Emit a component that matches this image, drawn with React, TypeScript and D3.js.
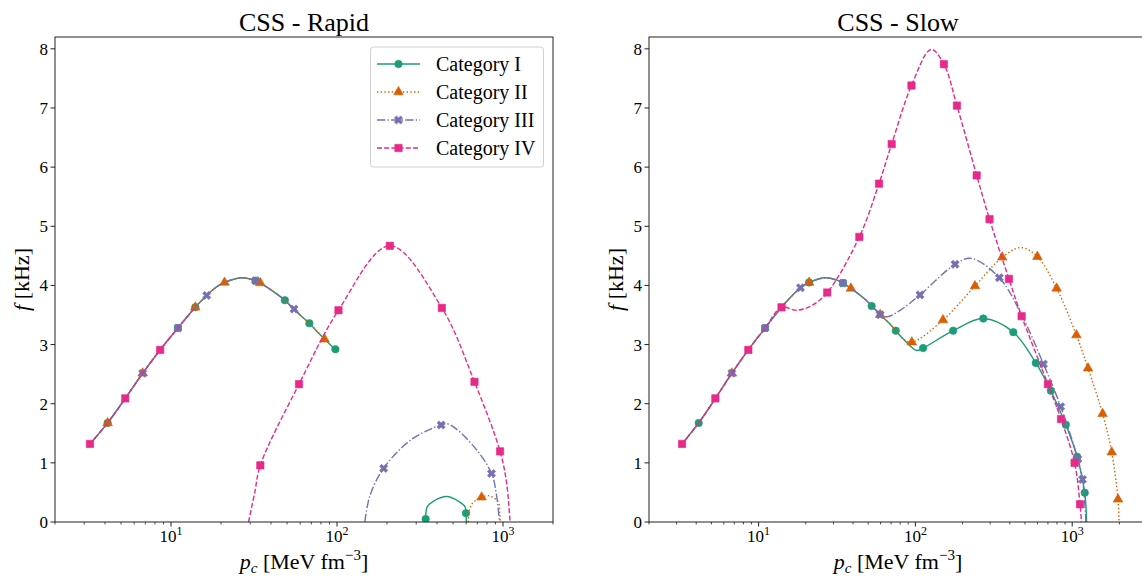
import React from 'react';
import * as d3 from 'd3';

type P = [number, number];

const categories = ['Category I', 'Category II', 'Category III', 'Category IV'];
const panelTitles = ['CSS - Rapid', 'CSS - Slow'];
const yTicks = [0, 1, 2, 3, 4, 5, 6, 7, 8];
const xMajorTicks = [10, 100, 1000];
const xMajorExponents = ['1', '2', '3'];

// shared hadronic branch (p_c [MeV fm^-3], f [kHz])
const hadronic: P[] = [
  [3.25, 1.32], [4.15, 1.675], [5.3, 2.09], [6.75, 2.515], [8.6, 2.91], [11.0, 3.28],
  [14.0, 3.63], [16.4, 3.83], [18.5, 3.96], [21.0, 4.05], [26.8, 4.13], [32.3, 4.08],
  [34.5, 4.04], [38.8, 3.95], [48.5, 3.75], [52.6, 3.65], [55.1, 3.6], [59.6, 3.505],
  [68.1, 3.36], [75.0, 3.235], [84.1, 3.09], [97.7, 2.92],
];

// hadronic cut-offs (transition pressures)
const rapidCuts = [97.7, 84.1, 59.6, 14.0];
const slowCuts = [84.1, 84.1, 59.6, 14.0];

// Rapid: disconnected hybrid branches
const rapidBranchI: P[] = [[342, 0.05], [350, 0.26], [380, 0.35], [458, 0.43], [540, 0.35], [590, 0.26], [598, 0.15], [601, 0]];
const rapidBranchII: P[] = [[618, 0], [628, 0.2], [660, 0.33], [743, 0.418], [815, 0.445], [935, 0.343], [955, 0.15], [962, 0]];
const rapidBranchIII: P[] = [[147, 0], [158, 0.45], [191, 0.907], [279, 1.39], [424, 1.64], [470, 1.655], [656, 1.3], [853, 0.82], [916, 0.43], [951, 0]];
const rapidBranchIV: P[] = [[29.3, 0], [31.9, 0.49], [34.5, 0.958], [59, 2.33], [102, 3.58], [208, 4.67], [428, 3.62], [673, 2.37], [960, 1.194], [1052, 0.65], [1102, 0]];

// Slow: connected branches after the transition
const slowBranchI: P[] = [[102, 2.9], [112, 2.94], [174, 3.235], [271, 3.44], [421, 3.21], [586, 2.69], [731, 2.22], [911, 1.645], [1074, 1.105], [1202, 0.496], [1236, 0]];
const slowBranchII: P[] = [[94.9, 3.04], [150, 3.415], [240, 3.99], [358, 4.475], [473, 4.64], [600, 4.486], [796, 3.95], [1064, 3.16], [1262, 2.6], [1563, 1.83], [1787, 1.18], [1960, 0.383], [1990, 0]];
const slowBranchIII: P[] = [[66, 3.47], [78, 3.56], [107, 3.84], [179, 4.357], [227, 4.458], [343, 4.13], [476, 3.5], [656, 2.67], [845, 1.95], [1087, 1.065], [1164, 0.72], [1224, 0]];
const slowBranchIV: P[] = [[17.4, 3.58], [21.5, 3.65], [27.4, 3.88], [43.9, 4.82], [58.6, 5.72], [70.6, 6.39], [94.4, 7.38], [126, 7.99], [152, 7.74], [184, 7.04], [246, 5.86], [297, 5.12], [395, 4.11], [476, 3.48], [700, 2.33], [849, 1.74], [1036, 1.0], [1122, 0.3], [1145, 0]];

// marker positions
const rapidMarksI: P[] = [[4.15, 1.675], [11.0, 3.28], [14.0, 3.63], [32.3, 4.08], [48.5, 3.75], [68.1, 3.36], [97.7, 2.92], [342, 0.05], [598, 0.15]];
const rapidMarksII: P[] = [[4.15, 1.675], [6.75, 2.515], [14.0, 3.63], [21.0, 4.05], [34.5, 4.04], [84.1, 3.09], [743, 0.418]];
const rapidMarksIII: P[] = [[6.75, 2.515], [11.0, 3.28], [16.4, 3.83], [32.3, 4.08], [55.1, 3.6], [191, 0.907], [424, 1.64], [853, 0.82]];
const rapidMarksIV: P[] = [[3.25, 1.32], [5.3, 2.09], [8.6, 2.91], [34.5, 0.958], [59, 2.33], [102, 3.58], [208, 4.67], [428, 3.62], [673, 2.37], [960, 1.194]];

const slowMarksI: P[] = [[4.15, 1.675], [11.0, 3.28], [21.0, 4.05], [34.5, 4.04], [52.6, 3.65], [75.0, 3.235], [112, 2.94], [174, 3.235], [271, 3.44], [421, 3.21], [586, 2.69], [731, 2.22], [911, 1.645], [1074, 1.105], [1202, 0.496]];
const slowMarksII: P[] = [[6.75, 2.515], [21.0, 4.05], [38.8, 3.95], [59.6, 3.505], [94.9, 3.04], [150, 3.415], [240, 3.99], [358, 4.475], [600, 4.486], [796, 3.95], [1064, 3.16], [1262, 2.6], [1563, 1.83], [1787, 1.18], [1960, 0.383]];
const slowMarksIII: P[] = [[6.75, 2.515], [11.0, 3.28], [18.5, 3.96], [34.5, 4.04], [59.6, 3.505], [107, 3.84], [179, 4.357], [343, 4.13], [656, 2.67], [845, 1.95], [1087, 1.065], [1164, 0.72]];
const slowMarksIV: P[] = [[3.25, 1.32], [5.3, 2.09], [8.6, 2.91], [14.0, 3.63], [27.4, 3.88], [43.9, 4.82], [58.6, 5.72], [70.6, 6.39], [94.4, 7.38], [152, 7.74], [184, 7.04], [246, 5.86], [297, 5.12], [395, 4.11], [476, 3.48], [700, 2.33], [849, 1.74], [1036, 1.0], [1122, 0.3]];

// styles
const colors = ['#1b9e77', '#d95f02', '#7570b3', '#e7298a'];
const dashes = ['none', '1.4 2.3', '8.3 2.2 1.4 2.2', '5 2.2'];
const symbols = [d3.symbolCircle, d3.symbolTriangle, d3.symbolCross, d3.symbolSquare];
const symbolSizes = [44, 40, 42, 54];
const symbolRot = [0, 0, 45, 0];

const FONT = '"Liberation Serif", "Times New Roman", "DejaVu Serif", serif';
const W = 1142, H = 580;
const TOP = 37, BOTTOM = 522;

const upTo = (cut: number) => hadronic.filter((d) => d[0] <= cut + 1e-9);

const rapidSegments: P[][][] = [
  [upTo(rapidCuts[0]), rapidBranchI],
  [upTo(rapidCuts[1]), rapidBranchII],
  [upTo(rapidCuts[2]), rapidBranchIII],
  [upTo(rapidCuts[3]), rapidBranchIV],
];
const slowSegments: P[][][] = [
  [upTo(slowCuts[0]).concat(slowBranchI)],
  [upTo(slowCuts[1]).concat(slowBranchII)],
  [upTo(slowCuts[2]).concat(slowBranchIII)],
  [upTo(slowCuts[3]).concat(slowBranchIV)],
];
const rapidMarks = [rapidMarksI, rapidMarksII, rapidMarksIII, rapidMarksIV];
const slowMarks = [slowMarksI, slowMarksII, slowMarksIII, slowMarksIV];

const yScale = d3.scaleLinear().domain([0, 8.2]).range([BOTTOM, TOP]);

function Marker({ i, x, y }: { i: number; x: number; y: number }) {
  const d = d3.symbol().type(symbols[i]).size(symbolSizes[i])() as string;
  return <path d={d} transform={`translate(${x},${y}) rotate(${symbolRot[i]})`} fill={colors[i]} stroke={colors[i]} strokeWidth={0.6} />;
}

function Panel({ idx, x0, x1, xmax, segments, marks, legend }: {
  idx: number; x0: number; x1: number; xmax: number; segments: P[][][]; marks: P[][]; legend: boolean;
}) {
  const x = d3.scaleLog().domain([2, xmax]).range([x0, x1]);
  const line = d3.line<P>().x((d) => x(d[0])).y((d) => yScale(d[1])).curve(d3.curveCatmullRom.alpha(0.5));
  const minors: number[] = [];
  for (let k = 0; k <= 3; k++) for (let m = 2; m <= 9; m++) {
    const v = m * Math.pow(10, k);
    if (v >= 2 && v <= xmax) minors.push(v);
  }
  const cx = (x0 + x1) / 2;
  const clipId = `clip${idx}`;
  return (
    <g>
      <defs>
        <clipPath id={clipId}><rect x={x0} y={TOP} width={x1 - x0} height={BOTTOM - TOP} /></clipPath>
      </defs>
      <text x={cx} y={31} textAnchor="middle" fontSize={26} fontFamily={FONT}>{panelTitles[idx]}</text>
      <g clipPath={`url(#${clipId})`}>
        {categories.map((c, i) => (
          <g key={c}>
            {segments[i].map((seg, j) => (
              <path key={j} d={line(seg) as string} fill="none" stroke={colors[i]} strokeWidth={1.4}
                strokeDasharray={dashes[i]} />
            ))}
            {marks[i].map((m, j) => <Marker key={j} i={i} x={x(m[0])} y={yScale(m[1])} />)}
          </g>
        ))}
      </g>
      <rect x={x0} y={TOP} width={x1 - x0} height={BOTTOM - TOP} fill="none" stroke="#222" strokeWidth={1} />
      {yTicks.map((t) => (
        <g key={t}>
          <line x1={x0 - 4.5} x2={x0} y1={yScale(t)} y2={yScale(t)} stroke="#222" strokeWidth={1} />
          <text x={x0 - 7} y={yScale(t) + 6} textAnchor="end" fontSize={17} fontFamily={FONT}>{t}</text>
        </g>
      ))}
      {minors.map((v) => (
        <line key={v} x1={x(v)} x2={x(v)} y1={BOTTOM} y2={BOTTOM + 2.5} stroke="#222" strokeWidth={0.8} />
      ))}
      {xMajorTicks.map((v, k) => (
        <g key={v}>
          <line x1={x(v)} x2={x(v)} y1={BOTTOM} y2={BOTTOM + 4.5} stroke="#222" strokeWidth={1} />
          <text x={x(v)} y={542} textAnchor="middle" fontSize={17} fontFamily={FONT}>
            10<tspan dy={-7} fontSize={12}>{xMajorExponents[k]}</tspan>
          </text>
        </g>
      ))}
      <text x={cx} y={569} textAnchor="middle" fontSize={22} fontFamily={FONT}>
        <tspan fontStyle="italic">p</tspan>
        <tspan fontStyle="italic" fontSize={15} dy={4}>c</tspan>
        <tspan dy={-4}> [MeV fm</tspan>
        <tspan fontSize={15} dy={-9}>−3</tspan>
        <tspan dy={9}>]</tspan>
      </text>
      <text transform={`translate(${x0 - 26},${(TOP + BOTTOM) / 2}) rotate(-90)`} textAnchor="middle" fontSize={22} fontFamily={FONT}>
        <tspan fontStyle="italic">f</tspan> [kHz]
      </text>
      {legend && (
        <g>
          <rect x={370.5} y={47} width={173} height={120} rx={3} fill="white" fillOpacity={0.8} stroke="#d0d0d0" strokeWidth={1} />
          {categories.map((c, i) => {
            const ry = 64 + i * 28;
            return (
              <g key={c}>
                <line x1={377} x2={420} y1={ry} y2={ry} stroke={colors[i]} strokeWidth={1.4} strokeDasharray={dashes[i]} />
                <Marker i={i} x={398.5} y={ry} />
                <text x={436} y={ry + 7} fontSize={20} fontFamily={FONT}>{c}</text>
              </g>
            );
          })}
        </g>
      )}
    </g>
  );
}

export default function App() {
  return (
    <svg width={W} height={H} style={{ position: 'absolute', left: 0, top: 0, background: 'white' }}>
      <rect x={0} y={0} width={W} height={H} fill="white" />
      <Panel idx={0} x0={55} x1={553} xmax={2000} segments={rapidSegments} marks={rapidMarks} legend={true} />
      <Panel idx={1} x0={649} x1={1147} xmax={3000} segments={slowSegments} marks={slowMarks} legend={false} />
    </svg>
  );
}
